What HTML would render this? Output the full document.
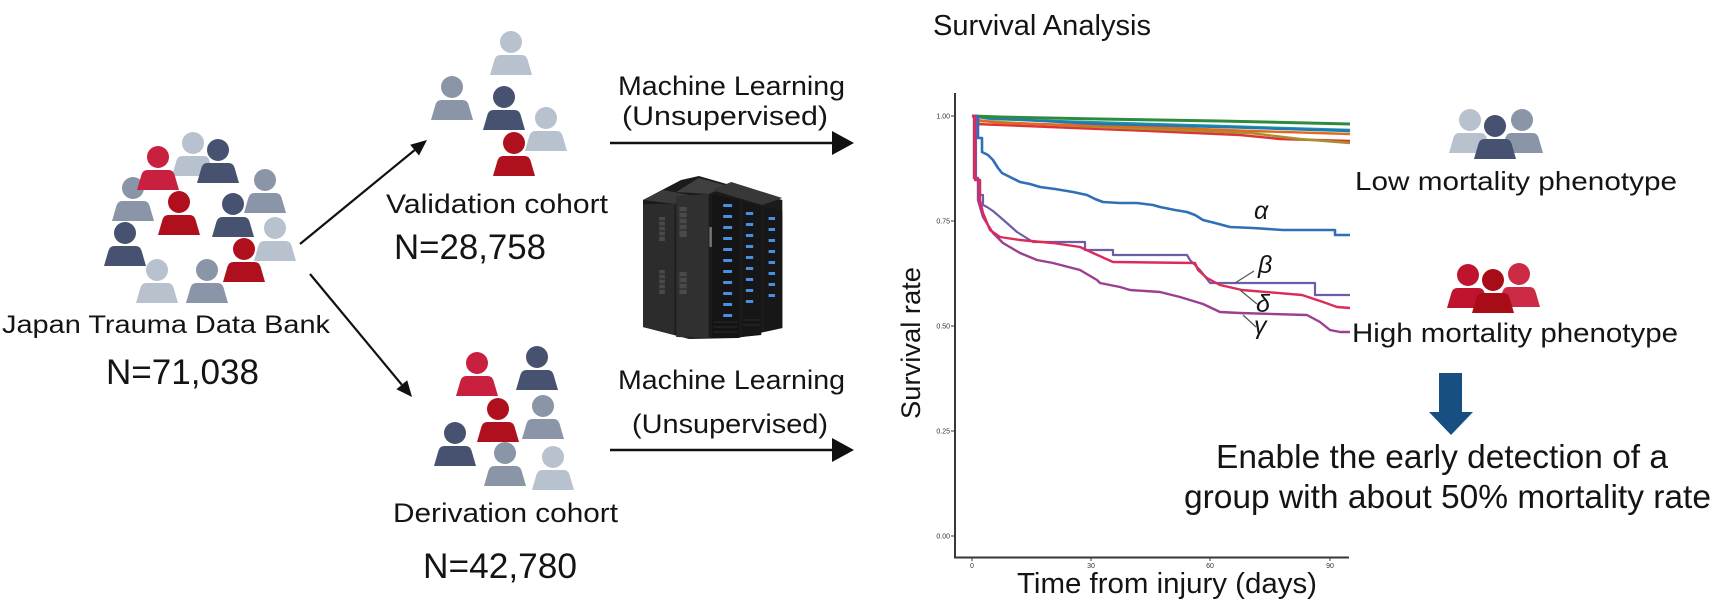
<!DOCTYPE html>
<html>
<head>
<meta charset="utf-8">
<style>
  html, body { margin:0; padding:0; background:#ffffff; }
  body { width:1736px; height:612px; overflow:hidden; }
  svg { display:block; }
  text { font-family: "Liberation Sans", Arial, sans-serif; fill:#141414; }
</style>
</head>
<body>
<svg width="1736" height="612" viewBox="0 0 1736 612" xmlns="http://www.w3.org/2000/svg">
  <defs>
    <g id="p">
      <circle cx="0" cy="0" r="11"/>
      <path d="M-21,33 L-16.5,17.5 Q-15,13 -10.5,13 L10.5,13 Q15,13 16.5,17.5 L21,33 Z"/>
    </g>
  </defs>

  <!-- ============ LEFT CLUSTER ============ -->
  <g>
    <use href="#p" x="193" y="143" fill="#b8c1ce"/>
    <use href="#p" x="218" y="150" fill="#465270"/>
    <use href="#p" x="133" y="188" fill="#8a95a7"/>
    <use href="#p" x="158" y="157" fill="#c9203f"/>
    <use href="#p" x="265" y="180" fill="#8a95a7"/>
    <use href="#p" x="179" y="202" fill="#b0101e"/>
    <use href="#p" x="233" y="204" fill="#465270"/>
    <use href="#p" x="275" y="228" fill="#b8c1ce"/>
    <use href="#p" x="125" y="233" fill="#465270"/>
    <use href="#p" x="157" y="270" fill="#b8c1ce"/>
    <use href="#p" x="207" y="270" fill="#8a95a7"/>
    <use href="#p" x="244" y="249" fill="#b0101e"/>
  </g>
  <text x="2" y="333" font-size="25" textLength="328" lengthAdjust="spacingAndGlyphs">Japan Trauma Data Bank</text>
  <text x="106" y="384" font-size="35" textLength="153" lengthAdjust="spacingAndGlyphs">N=71,038</text>

  <!-- diagonal arrows -->
  <line x1="300" y1="244" x2="414.6" y2="150.1" stroke="#111" stroke-width="2.2"/>
  <polygon points="427,140 419,155.5 410.2,144.7" fill="#111"/>
  <line x1="310" y1="274" x2="401.8" y2="384.7" stroke="#111" stroke-width="2.2"/>
  <polygon points="412,397 396.4,389.2 407.2,380.2" fill="#111"/>

  <!-- ============ VALIDATION CLUSTER ============ -->
  <g>
    <use href="#p" x="511" y="42" fill="#b8c1ce"/>
    <use href="#p" x="452" y="87" fill="#8a95a7"/>
    <use href="#p" x="546" y="118" fill="#b8c1ce"/>
    <use href="#p" x="504" y="97" fill="#465270"/>
    <use href="#p" x="514" y="143" fill="#b0101e"/>
  </g>
  <text x="386" y="213" font-size="27" textLength="222" lengthAdjust="spacingAndGlyphs">Validation cohort</text>
  <text x="394" y="259" font-size="35" textLength="152" lengthAdjust="spacingAndGlyphs">N=28,758</text>

  <!-- ============ DERIVATION CLUSTER ============ -->
  <g>
    <use href="#p" x="477" y="363" fill="#c9203f"/>
    <use href="#p" x="537" y="357" fill="#465270"/>
    <use href="#p" x="543" y="406" fill="#8a95a7"/>
    <use href="#p" x="498" y="409" fill="#b0101e"/>
    <use href="#p" x="455" y="433" fill="#465270"/>
    <use href="#p" x="505" y="453" fill="#8a95a7"/>
    <use href="#p" x="553" y="457" fill="#b8c1ce"/>
  </g>
  <text x="393" y="522" font-size="27" textLength="225" lengthAdjust="spacingAndGlyphs">Derivation cohort</text>
  <text x="423" y="578" font-size="35" textLength="154" lengthAdjust="spacingAndGlyphs">N=42,780</text>

  <!-- ============ MACHINE LEARNING ARROWS ============ -->
  <text x="618" y="95" font-size="27" textLength="227" lengthAdjust="spacingAndGlyphs">Machine Learning</text>
  <text x="622" y="125" font-size="27" textLength="206" lengthAdjust="spacingAndGlyphs">(Unsupervised)</text>
  <line x1="610" y1="143" x2="834" y2="143" stroke="#111" stroke-width="2.6"/>
  <polygon points="832,131 854,143 832,155" fill="#111"/>

  <text x="618" y="389" font-size="27" textLength="227" lengthAdjust="spacingAndGlyphs">Machine Learning</text>
  <text x="632" y="433" font-size="27" textLength="196" lengthAdjust="spacingAndGlyphs">(Unsupervised)</text>
  <line x1="610" y1="450" x2="834" y2="450" stroke="#111" stroke-width="2.6"/>
  <polygon points="832,438 854,450 832,462" fill="#111"/>

  <!-- ============ SERVER ============ -->
  <g transform="translate(643,0) scale(0.81,1) translate(-643,0)">
    <polygon points="643,200 690,180 712,176 815,200 815,328 760,338 700,339 643,327" fill="#1b1b1b"/>
    <!-- top faces -->
    <polygon points="643,200 668,190 706,196 682,204" fill="#3a3a3a"/>
    <polygon points="684,192 712,178 748,186 724,194" fill="#404040"/>
    <polygon points="728,190 752,182 815,198 790,205" fill="#383838"/>
    <!-- side faces -->
    <polygon points="643,204 682,204 682,335 643,327" fill="#2c2c2c"/>
    <polygon points="684,196 724,194 724,338 684,337" fill="#303030"/>
    <!-- front faces -->
    <polygon points="728,194 762,200 762,338 728,338" fill="#141414"/>
    <polygon points="765,201 789,206 789,335 765,337" fill="#161616"/>
    <polygon points="792,207 815,211 815,328 792,332" fill="#171717"/>
    <!-- vents -->
    <g fill="#4a4a4a">
      <rect x="663" y="217" width="7" height="24"/>
      <rect x="663" y="270" width="7" height="24"/>
      <rect x="688" y="207" width="9" height="30"/>
      <rect x="688" y="272" width="9" height="22"/>
    </g>
    <g stroke="#222" stroke-width="1">
      <line x1="663" y1="221" x2="670" y2="221"/><line x1="663" y1="226" x2="670" y2="226"/><line x1="663" y1="231" x2="670" y2="231"/><line x1="663" y1="236" x2="670" y2="236"/>
      <line x1="663" y1="274" x2="670" y2="274"/><line x1="663" y1="279" x2="670" y2="279"/><line x1="663" y1="284" x2="670" y2="284"/><line x1="663" y1="289" x2="670" y2="289"/>
      <line x1="688" y1="212" x2="697" y2="212"/><line x1="688" y1="218" x2="697" y2="218"/><line x1="688" y1="224" x2="697" y2="224"/><line x1="688" y1="230" x2="697" y2="230"/>
      <line x1="688" y1="277" x2="697" y2="277"/><line x1="688" y1="283" x2="697" y2="283"/><line x1="688" y1="289" x2="697" y2="289"/>
    </g>
    <rect x="725" y="227" width="3" height="20" fill="#777"/>
    <!-- blue lights -->
    <g fill="#4a8ee0">
      <rect x="742" y="204" width="11" height="3"/><rect x="742" y="215" width="11" height="3"/><rect x="742" y="226" width="11" height="3"/>
      <rect x="742" y="237" width="11" height="3"/><rect x="742" y="248" width="11" height="3"/><rect x="742" y="259" width="11" height="3"/>
      <rect x="742" y="270" width="11" height="3"/><rect x="742" y="281" width="11" height="3"/><rect x="742" y="292" width="11" height="3"/>
      <rect x="742" y="303" width="11" height="3"/><rect x="742" y="314" width="11" height="3"/>
      <rect x="770" y="212" width="9" height="3"/><rect x="770" y="223" width="9" height="3"/><rect x="770" y="234" width="9" height="3"/>
      <rect x="770" y="245" width="9" height="3"/><rect x="770" y="256" width="9" height="3"/><rect x="770" y="267" width="9" height="3"/>
      <rect x="770" y="278" width="9" height="3"/><rect x="770" y="289" width="9" height="3"/><rect x="770" y="300" width="9" height="3"/>
      <rect x="798" y="217" width="8" height="3"/><rect x="798" y="228" width="8" height="3"/><rect x="798" y="239" width="8" height="3"/>
      <rect x="798" y="250" width="8" height="3"/><rect x="798" y="261" width="8" height="3"/><rect x="798" y="272" width="8" height="3"/>
      <rect x="798" y="283" width="8" height="3"/><rect x="798" y="294" width="8" height="3"/>
    </g>
    <g stroke="#2a2a2a" stroke-width="1">
      <line x1="730" y1="322" x2="760" y2="322"/><line x1="730" y1="327" x2="760" y2="327"/><line x1="730" y1="332" x2="760" y2="332"/>
      <line x1="767" y1="320" x2="787" y2="320"/><line x1="767" y1="325" x2="787" y2="325"/>
    </g>
  </g>

  <!-- ============ CHART ============ -->
  <text x="933" y="35" font-size="29" textLength="218" lengthAdjust="spacingAndGlyphs">Survival Analysis</text>

  <!-- axes -->
  <line x1="955" y1="93" x2="955" y2="558" stroke="#3d3535" stroke-width="2"/>
  <line x1="954" y1="557.5" x2="1349" y2="557.5" stroke="#3d3535" stroke-width="2"/>
  <!-- ticks -->
  <g stroke="#3d3535" stroke-width="1">
    <line x1="951" y1="116" x2="955" y2="116"/>
    <line x1="951" y1="221" x2="955" y2="221"/>
    <line x1="951" y1="326" x2="955" y2="326"/>
    <line x1="951" y1="431" x2="955" y2="431"/>
    <line x1="951" y1="536" x2="955" y2="536"/>
    <line x1="972" y1="557" x2="972" y2="561"/>
    <line x1="1091" y1="557" x2="1091" y2="561"/>
    <line x1="1210" y1="557" x2="1210" y2="561"/>
    <line x1="1330" y1="557" x2="1330" y2="561"/>
  </g>
  <g font-size="7">
    <text x="950" y="118.5" text-anchor="end" style="fill:#333">1.00</text>
    <text x="950" y="223.5" text-anchor="end" style="fill:#333">0.75</text>
    <text x="950" y="328.5" text-anchor="end" style="fill:#333">0.50</text>
    <text x="950" y="433.5" text-anchor="end" style="fill:#333">0.25</text>
    <text x="950" y="538.5" text-anchor="end" style="fill:#333">0.00</text>
    <text x="972" y="568" text-anchor="middle" style="fill:#333">0</text>
    <text x="1091" y="568" text-anchor="middle" style="fill:#333">30</text>
    <text x="1210" y="568" text-anchor="middle" style="fill:#333">60</text>
    <text x="1330" y="568" text-anchor="middle" style="fill:#333">90</text>
  </g>
  <text transform="translate(920,343) rotate(-90)" x="0" y="0" font-size="27" text-anchor="middle" textLength="152" lengthAdjust="spacingAndGlyphs">Survival rate</text>
  <text x="1017" y="593" font-size="29" textLength="300" lengthAdjust="spacingAndGlyphs">Time from injury (days)</text>

  <!-- top cluster curves -->
  <g fill="none" stroke-width="2.4" stroke-linejoin="round">
    <polyline stroke="#e0323a" points="972,116 976,116 976,124 1050,127 1150,131 1240,135 1280,139 1350,141"/>
    <polyline stroke="#a8902a" points="972,116 977,116 977,121 1100,127 1250,133 1300,139 1350,143"/>
    <polyline stroke="#e06a1e" points="972,116 977,116 977,120 1000,123 1150,127 1250,131 1350,134"/>
    <polyline stroke="#1b9aa0" points="972,116 990,119 1220,126 1350,130"/>
    <polyline stroke="#2377b5" points="972,116 985,118 1100,124 1220,127 1350,131"/>
    <polyline stroke="#2e8b3d" stroke-width="3" points="972,116 1000,117 1100,119 1220,121 1350,124"/>
  </g>

  <!-- alpha (blue) -->
  <polyline fill="none" stroke="#2f6fb8" stroke-width="2.6" stroke-linejoin="round"
    points="972,116 978,116 978,138 982,138 982,152 988,155 993,160 998,168 1002,173 1010,177 1020,182 1030,184 1040,187 1055,189 1073,192 1087,195 1095,199 1103,202 1120,203 1137,203 1153,205 1160,207 1175,210 1187,212 1195,215 1203,220 1215,223 1230,227 1253,228 1283,230 1335,230 1335,235 1350,235"/>

  <!-- gamma (magenta) -->
  <polyline fill="none" stroke="#9b3f8f" stroke-width="2.4" stroke-linejoin="round"
    points="972,116 974,116 974,178 978,178 978,200 983,217 993,233 1003,243 1020,253 1037,260 1053,263 1080,270 1097,280 1100,283 1120,287 1130,290 1160,292 1180,297 1203,304 1220,312 1240,313 1307,315 1320,322 1330,330 1340,332 1350,332"/>

  <!-- beta (purple) -->
  <polyline fill="none" stroke="#6e5ca6" stroke-width="2.2" stroke-linejoin="round"
    points="972,116 976,116 976,180 980,180 980,195 983,195 983,205 987,207 993,211 1000,217 1008,224 1017,232 1025,237 1033,242 1085,242 1085,250 1113,250 1113,255 1187,255 1190,260 1200,270 1210,283 1315,283 1315,295 1350,295"/>

  <!-- delta (pink) -->
  <polyline fill="none" stroke="#dc2a5a" stroke-width="2.4" stroke-linejoin="round"
    points="972,116 975,116 975,180 980,180 980,200 983,213 990,230 1000,237 1020,240 1053,243 1080,247 1093,253 1113,262 1195,263 1198,270 1207,278 1220,285 1242,290 1302,295 1323,302 1337,307 1350,308"/>

  <!-- leader lines -->
  <g stroke="#555" stroke-width="1.2">
    <line x1="1235" y1="283" x2="1254" y2="271"/>
    <line x1="1240" y1="290" x2="1257" y2="304"/>
    <line x1="1243" y1="315" x2="1256" y2="327"/>
  </g>
  <g font-size="25" font-style="italic">
    <text x="1254" y="219">α</text>
    <text x="1258" y="273">β</text>
    <text x="1256" y="312">δ</text>
    <text x="1254" y="334">γ</text>
  </g>

  <!-- ============ RIGHT SIDE ============ -->
  <g>
    <use href="#p" x="1470" y="120" fill="#b8c1ce"/>
    <use href="#p" x="1522" y="120" fill="#8a95a7"/>
    <use href="#p" x="1495" y="126" fill="#465270"/>
  </g>
  <text x="1355" y="190" font-size="26" textLength="322" lengthAdjust="spacingAndGlyphs">Low mortality phenotype</text>

  <g>
    <use href="#p" x="1468" y="275" fill="#c0142e"/>
    <use href="#p" x="1519" y="274" fill="#cc2a45"/>
    <use href="#p" x="1493" y="280" fill="#a80c16"/>
  </g>
  <text x="1352" y="342" font-size="27" textLength="326" lengthAdjust="spacingAndGlyphs">High mortality phenotype</text>

  <!-- blue down arrow -->
  <polygon points="1439,373 1462,373 1462,412 1473,412 1451,435 1429,412 1439,412" fill="#174f82"/>

  <text x="1216" y="468" font-size="33.5" textLength="452" lengthAdjust="spacingAndGlyphs">Enable the early detection of a</text>
  <text x="1184" y="508" font-size="33.5" textLength="527" lengthAdjust="spacingAndGlyphs">group with about 50% mortality rate</text>
</svg>
</body>
</html>
